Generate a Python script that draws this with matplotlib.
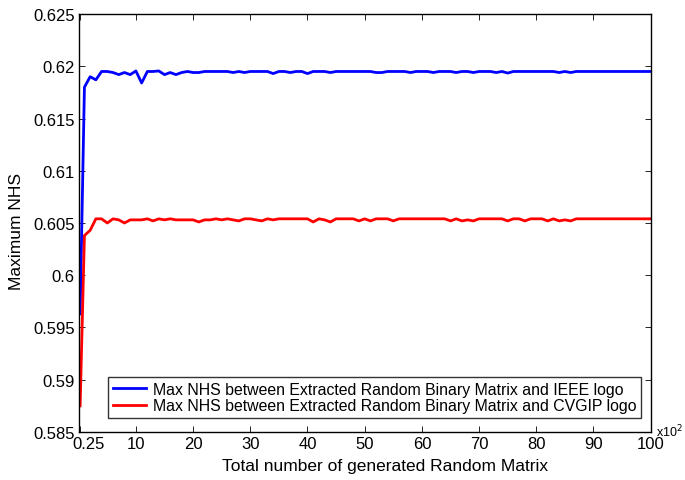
import numpy as np
import matplotlib
matplotlib.use('Agg')
import matplotlib.pyplot as plt
import matplotlib.transforms as mtransforms

plt.rcParams['font.family'] = ['Liberation Sans', 'DejaVu Sans']

# x axis in units of 10^2 generated matrices
n_matrix = [0.25] + list(range(1, 101))

# Max NHS vs IEEE logo
nhs_ieee = [0.5963, 0.6180, 0.6190, 0.6187, 0.6195, 0.6195, 0.6194, 0.6192, 0.6194, 0.6192,
            0.61955, 0.6184, 0.6195, 0.6195, 0.61955, 0.6192, 0.6194, 0.6192, 0.6194, 0.6195,
            0.6194, 0.6194, 0.6195, 0.6195, 0.6195, 0.6195, 0.6195, 0.6194, 0.6195, 0.6194,
            0.6195, 0.6195, 0.6195, 0.6195, 0.6193, 0.6195, 0.6195, 0.6194, 0.6195, 0.6195,
            0.6193, 0.6195, 0.6195, 0.6195, 0.6194, 0.6195, 0.6195, 0.6195, 0.6195, 0.6195,
            0.6195, 0.6195, 0.6194, 0.6194, 0.6195, 0.6195, 0.6195, 0.6195, 0.6194, 0.6195,
            0.6195, 0.6195, 0.6194, 0.6195, 0.6195, 0.6195, 0.6194, 0.6195, 0.6195, 0.6194,
            0.6195, 0.6195, 0.6195, 0.6194, 0.6195, 0.61935, 0.6195, 0.6195, 0.6195, 0.6195,
            0.6195, 0.6195, 0.6195, 0.6195, 0.6194, 0.6195, 0.6194, 0.6195, 0.6195, 0.6195,
            0.6195, 0.6195, 0.6195, 0.6195, 0.6195, 0.6195, 0.6195, 0.6195, 0.6195, 0.6195,
            0.6195]

# Max NHS vs CVGIP logo
nhs_cvgip = [0.5875, 0.6038, 0.6043, 0.6054, 0.6054, 0.6050, 0.6054, 0.6053, 0.6050, 0.6053,
             0.6053, 0.6053, 0.6054, 0.6052, 0.6054, 0.6053, 0.6054, 0.6053, 0.6053, 0.6053,
             0.6053, 0.6051, 0.6053, 0.6053, 0.6054, 0.6053, 0.6054, 0.6053, 0.6052, 0.6054,
             0.6054, 0.6053, 0.6052, 0.6054, 0.6053, 0.6054, 0.6054, 0.6054, 0.6054, 0.6054,
             0.6054, 0.6051, 0.6054, 0.6053, 0.6051, 0.6054, 0.6054, 0.6054, 0.6054, 0.6052,
             0.6054, 0.6052, 0.6054, 0.6054, 0.6054, 0.6052, 0.6054, 0.6054, 0.6054, 0.6054,
             0.6054, 0.6054, 0.6054, 0.6054, 0.6054, 0.6052, 0.6054, 0.6052, 0.6053, 0.6052,
             0.6054, 0.6054, 0.6054, 0.6054, 0.6054, 0.6052, 0.6054, 0.6054, 0.6052, 0.6054,
             0.6054, 0.6054, 0.6052, 0.6054, 0.6052, 0.6053, 0.6052, 0.6054, 0.6054, 0.6054,
             0.6054, 0.6054, 0.6054, 0.6054, 0.6054, 0.6054, 0.6054, 0.6054, 0.6054, 0.6054,
             0.6054]

labels = ['Max NHS between Extracted Random Binary Matrix and IEEE logo',
          'Max NHS between Extracted Random Binary Matrix and CVGIP logo']

xticks = [0.25] + list(range(10, 101, 10))
xticklabels = ['0.25'] + [str(t) for t in range(10, 101, 10)]
yticks = [0.585, 0.59, 0.595, 0.6, 0.605, 0.61, 0.615, 0.62, 0.625]
yticklabels = ['0.585', '0.59', '0.595', '0.6', '0.605', '0.61', '0.615', '0.62', '0.625']

fig = plt.figure(figsize=(6.85, 4.81), dpi=100)
ax = fig.add_axes([0.1149, 0.0998, 0.835, 0.869])

ax.plot(n_matrix, nhs_ieee, color=(0, 0, 1), lw=2.0, label=labels[0])
ax.plot(n_matrix, nhs_cvgip, color=(1, 0, 0), lw=2.0, label=labels[1])

ax.set_xlim(0, 100)
ax.set_ylim(0.585, 0.625)
ax.set_xticks(xticks)
ax.set_xticklabels(xticklabels)
ax.set_yticks(yticks)
ax.set_yticklabels(yticklabels)
ax.tick_params(direction='in', top=True, right=True, labelsize=12, length=4, width=0.6, pad=3)
for sp in ax.spines.values():
    sp.set_linewidth(1.0)

# nudge the first label right like the original
first = ax.get_xticklabels()[0]
first.set_transform(first.get_transform() + mtransforms.ScaledTranslation(0.08, 0, fig.dpi_scale_trans))

ax.set_xlabel('Total number of generated Random Matrix', fontsize=12.5)
ax.set_ylabel('Maximum NHS', fontsize=12.5)
ax.xaxis.set_label_coords(0.535, -0.063)
ax.yaxis.set_label_coords(-0.095, 0.481)

ax.text(1.01, 0.002, 'x10$^2$', transform=ax.transAxes, fontsize=9, ha='left', va='center')

leg = ax.legend(loc='lower right', bbox_to_anchor=(0.983, 0.033), fontsize=11.4,
                frameon=True, fancybox=False, edgecolor='black', borderaxespad=0,
                handlelength=2.1, labelspacing=0.12, borderpad=0.3, handletextpad=0.4)
leg.get_frame().set_linewidth(1.0)

fig.savefig('out.png', dpi=100)
